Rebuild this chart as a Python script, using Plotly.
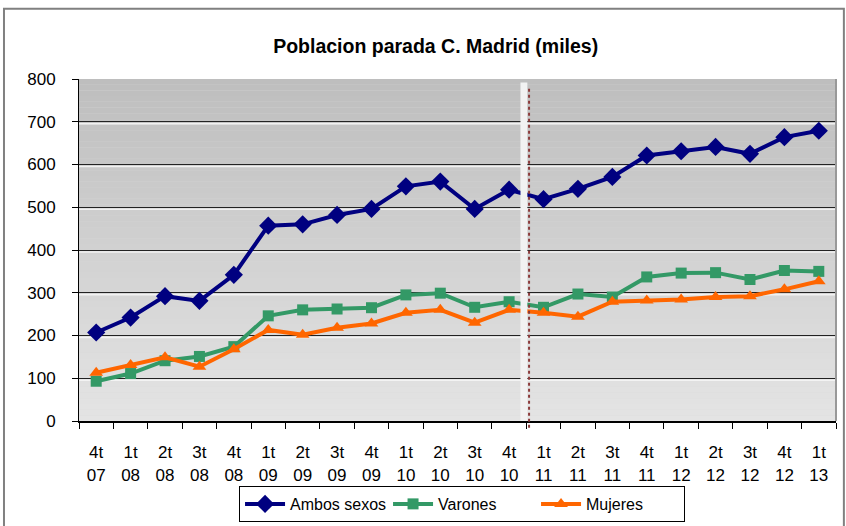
import plotly.graph_objects as go

categories = ["4t<br>07", "1t<br>08", "2t<br>08", "3t<br>08", "4t<br>08", "1t<br>09", "2t<br>09",
              "3t<br>09", "4t<br>09", "1t<br>10", "2t<br>10", "3t<br>10", "4t<br>10", "1t<br>11",
              "2t<br>11", "3t<br>11", "4t<br>11", "1t<br>12", "2t<br>12", "3t<br>12", "4t<br>12",
              "1t<br>13"]
ambos = [207, 242, 292, 281, 342, 457, 460, 482, 496, 549, 560, 496, 541, 519, 543, 571,
         621, 631, 641, 625, 664, 679]
varones = [93, 111, 141, 151, 174, 246, 260, 262, 265, 295, 299, 266, 279, 266, 297, 290,
           337, 346, 347, 331, 352, 350]
mujeres = [113, 131, 149, 127, 168, 213, 202, 218, 228, 253, 260, 230, 260, 253, 244, 279,
           282, 284, 290, 292, 308, 327]
yticks = [0, 100, 200, 300, 400, 500, 600, 700, 800]

fig = go.Figure()
fig.add_trace(go.Scatter(x=categories, y=ambos, name="Ambos sexos", mode="lines+markers",
                         line=dict(color="#000080", width=4),
                         marker=dict(symbol="diamond", size=14, color="#000080")))
fig.add_trace(go.Scatter(x=categories, y=varones, name="Varones", mode="lines+markers",
                         line=dict(color="#339966", width=4),
                         marker=dict(symbol="square", size=11, color="#339966")))
fig.add_trace(go.Scatter(x=categories, y=mujeres, name="Mujeres", mode="lines+markers",
                         line=dict(color="#ff6600", width=4),
                         marker=dict(symbol="triangle-up", size=12, color="#ff6600")))

shapes = []
N = 60
top = (190, 190, 190)
bot = (228, 228, 228)
for i in range(N):
    t = i / (N - 1)
    c = tuple(int(round(bot[k] + (top[k] - bot[k]) * t)) for k in range(3))
    shapes.append(dict(type="rect", xref="x domain", yref="y domain",
                       x0=0, x1=1, y0=i / N, y1=(i + 1) / N,
                       fillcolor="rgb(%d,%d,%d)" % c, line=dict(width=0), layer="below"))
# light highlight beneath each gridline
for v in yticks[1:-1]:
    shapes.append(dict(type="line", xref="x domain", yref="y", ysizemode="pixel", yanchor=v,
                       x0=0, x1=1, y0=-2, y1=-2,
                       line=dict(color="rgba(245,245,245,0.9)", width=1.5), layer="below"))
# white separator band and dashed line between 4t10 and 1t11
shapes.append(dict(type="rect", xref="x", yref="y domain", x0=12.33, x1=12.53, y0=0, y1=0.99,
                   fillcolor="#f2f2f2", line=dict(width=0), layer="above"))
shapes.append(dict(type="line", xref="x", yref="y domain", x0=12.58, x1=12.58, y0=-0.02, y1=0.975,
                   line=dict(color="#8b3a3a", width=2, dash="dot"), layer="above"))
# right border of plot area
shapes.append(dict(type="line", xref="x domain", yref="y domain", x0=1, x1=1, y0=0, y1=1,
                   line=dict(color="#999999", width=2), layer="above"))
# outer chart frame
shapes.append(dict(type="rect", xref="paper", yref="paper", x0=-0.0991, x1=1.0104, y0=-0.5, y1=1.2054,
                   line=dict(color="#808080", width=2), fillcolor="rgba(0,0,0,0)", layer="below"))

fig.update_layout(
    width=846, height=526,
    margin=dict(l=79, r=10, t=79, b=105, autoexpand=False),
    paper_bgcolor="white", plot_bgcolor="#d8d8d8",
    font=dict(family="Liberation Sans, Arial, sans-serif", size=16, color="#000000"),
    title=dict(text="<b>Poblacion parada C. Madrid (miles)</b>", x=0.515, xanchor="center",
               xref="container", yref="container",
               y=0.912, yanchor="middle",
               font=dict(family="Liberation Sans Narrow, Liberation Sans, Arial", size=19.5,
                         color="#000000")),
    shapes=shapes,
    showlegend=True,
    legend=dict(orientation="h", x=0.506, xanchor="center", y=-0.19, yanchor="top",
                bgcolor="white", bordercolor="#000000", borderwidth=1,
                font=dict(size=16), itemwidth=40, entrywidth=93),
    xaxis=dict(type="category", showgrid=False, showline=True, linecolor="#000000", linewidth=2,
               ticks="outside", tickson="boundaries", ticklen=6, tickcolor="#000000",
               range=[-0.5, 21.5], automargin=False, ticklabelstandoff=15,
               tickfont=dict(family="Liberation Sans Narrow, Liberation Sans, Arial", size=17)),
    yaxis=dict(range=[0, 800], tickvals=yticks, showgrid=True, gridcolor="#222222", gridwidth=1,
               showline=True, linecolor="#000000", linewidth=1, ticks="outside", ticklen=6,
               tickcolor="#000000", zeroline=False, tickfont=dict(size=17), automargin=False,
               ticklabelstandoff=13),
)

fig.write_html("out.html", post_script="document.body.style.margin='0';",
               config={"displayModeBar": False})
